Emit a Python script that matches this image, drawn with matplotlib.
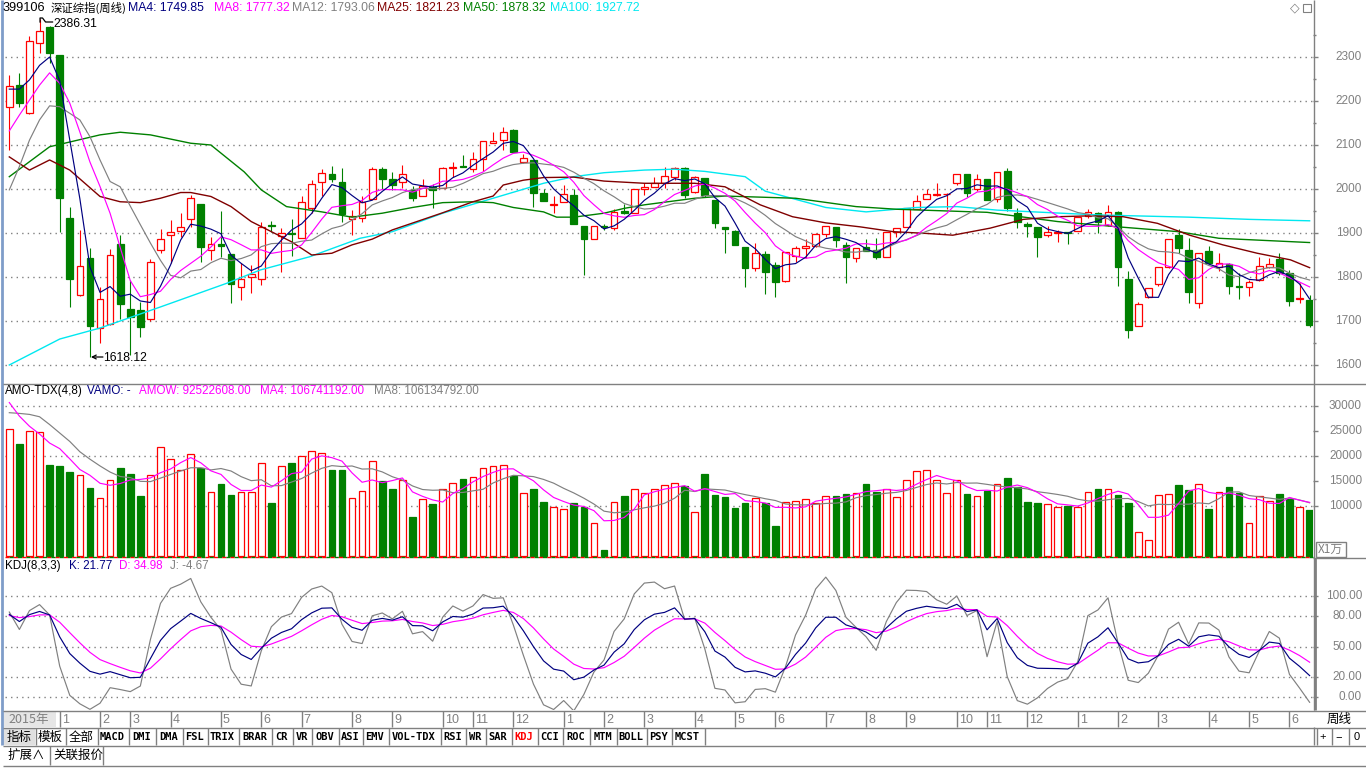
import numpy as np
import matplotlib
matplotlib.use('Agg')
import matplotlib.pyplot as plt
from matplotlib.patches import Rectangle

W, H = 1366, 768

# ---------------- data (weekly, Shenzhen composite) ----------------
opens = [2186, 2236, 2173, 2332, 2368, 2305, 1934, 1758, 1844, 1683,
         1693, 1874, 1727, 1725, 1704, 1861, 1895, 1905, 1931, 1966,
         1861, 1875, 1852, 1778, 1800, 1795, 1919, 1893, 1900, 1888,
         1956, 2015, 2033, 2015, 1932, 1935, 1977, 2045, 2022, 2015,
         1998, 1984, 2004, 2003, 2047, 2052, 2045, 2068, 2104, 2111,
         2134, 2062, 2067, 1992, 1963, 1971, 1986, 1916, 1887, 1915,
         1911, 1949, 1945, 2000, 2004, 2013, 2027, 2047, 1994, 2024,
         1976, 1913, 1905, 1869, 1821, 1852, 1827, 1791, 1848, 1865,
         1871, 1897, 1913, 1873, 1843, 1868, 1861, 1845, 1903, 1913,
         1955, 1977, 1986, 1988, 2013, 2035, 1999, 2022, 1977, 2041,
         1945, 1920, 1913, 1895, 1900, 1903, 1905, 1939, 1945, 1918,
         1948, 1795, 1689, 1754, 1783, 1822, 1895, 1861, 1742, 1859,
         1823, 1830, 1779, 1778, 1793, 1823, 1840, 1808, 1750, 1748]
highs = [2259, 2264, 2348, 2386, 2370, 2305, 1958, 1907, 1865, 1777,
         1864, 1895, 1793, 1744, 1841, 1909, 1930, 1945, 1986, 1966,
         1892, 1951, 1852, 1831, 1827, 1926, 1927, 1911, 1931, 1983,
         2020, 2045, 2052, 2047, 1952, 1984, 2049, 2049, 2038, 2055,
         2007, 2022, 2011, 2051, 2061, 2077, 2083, 2108, 2129, 2142,
         2136, 2079, 2067, 2000, 1984, 2009, 1999, 1916, 1917, 1920,
         1954, 1966, 1999, 2013, 2028, 2051, 2051, 2051, 2030, 2026,
         1976, 1913, 1907, 1869, 1877, 1859, 1835, 1856, 1870, 1886,
         1899, 1917, 1913, 1880, 1867, 1886, 1888, 1903, 1911, 1956,
         1986, 1999, 2013, 1990, 2035, 2035, 2034, 2022, 2038, 2047,
         1956, 1926, 1913, 1917, 1907, 1903, 1937, 1954, 1948, 1964,
         1950, 1814, 1744, 1776, 1822, 1886, 1908, 1889, 1854, 1870,
         1854, 1832, 1810, 1793, 1846, 1844, 1855, 1817, 1786, 1759]
lows = [2089, 2186, 2170, 2308, 2286, 1902, 1731, 1756, 1618, 1649,
        1690, 1704, 1623, 1664, 1699, 1855, 1831, 1892, 1914, 1835,
        1839, 1846, 1740, 1748, 1764, 1782, 1903, 1812, 1848, 1888,
        1945, 1983, 2017, 1926, 1895, 1926, 1977, 1999, 1998, 2003,
        1973, 1984, 1956, 2003, 2027, 2050, 2038, 2042, 2104, 2089,
        2085, 2058, 1958, 1972, 1945, 1971, 1920, 1805, 1887, 1907,
        1907, 1943, 1945, 1986, 2004, 2002, 2020, 1979, 1990, 1982,
        1912, 1855, 1873, 1778, 1814, 1761, 1755, 1789, 1835, 1844,
        1869, 1890, 1869, 1786, 1833, 1858, 1840, 1845, 1890, 1913,
        1955, 1977, 1985, 1954, 2010, 1982, 1995, 1976, 1971, 1950,
        1912, 1892, 1846, 1890, 1879, 1875, 1905, 1935, 1901, 1915,
        1780, 1661, 1689, 1752, 1780, 1820, 1855, 1742, 1729, 1830,
        1814, 1761, 1749, 1757, 1790, 1820, 1805, 1735, 1740, 1687]
closes = [2234, 2195, 2336, 2359, 2310, 1980, 1796, 1826, 1689, 1749,
          1849, 1738, 1708, 1687, 1835, 1886, 1902, 1913, 1979, 1869,
          1874, 1871, 1784, 1795, 1807, 1914, 1916, 1899, 1898, 1970,
          2011, 2037, 2022, 1943, 1939, 1971, 2045, 2023, 2009, 2033,
          1980, 2007, 1998, 2047, 2051, 2050, 2068, 2108, 2110, 2129,
          2085, 2070, 1992, 1972, 1967, 1988, 1920, 1887, 1917, 1913,
          1948, 1946, 1999, 2004, 2013, 2030, 2047, 1986, 2028, 1986,
          1922, 1909, 1873, 1821, 1854, 1812, 1789, 1856, 1865, 1870,
          1897, 1917, 1883, 1846, 1867, 1860, 1845, 1903, 1911, 1956,
          1973, 1989, 1988, 1989, 2035, 1992, 2022, 1976, 2038, 1956,
          1924, 1917, 1892, 1902, 1902, 1900, 1937, 1948, 1924, 1948,
          1823, 1680, 1739, 1774, 1822, 1886, 1865, 1767, 1854, 1832,
          1832, 1780, 1778, 1788, 1825, 1829, 1810, 1746, 1752, 1692]
# weekly turnover, unit: 10,000 (万)
volumes = [25410, 22440, 24940, 24800, 18180, 17980, 16760, 16290, 13520, 11620,
           15140, 17700, 16350, 12100, 16290, 21900, 19330, 17170, 20340, 17700,
           12900, 14330, 12300, 12900, 12900, 18650, 10680, 17980, 18590, 19940,
           21020, 20550, 17170, 17170, 11620, 13040, 18990, 15000, 13310, 15140,
           7840, 11420, 10470, 13450, 14660, 15400, 15810, 17700, 17980, 18110,
           15950, 12640, 13450, 10880, 9860, 9390, 10610, 9730, 6550, 1280,
           10880, 12100, 13310, 12640, 13310, 14260, 14660, 14060, 8850, 16350,
           12300, 11760, 9530, 10680, 11620, 10540, 6010, 10810, 11080, 11420,
           10540, 12100, 12100, 12500, 12640, 14330, 12770, 13450, 11890, 15140,
           16960, 17170, 15140, 12700, 15140, 12430, 12100, 12970, 14460, 15540,
           13790, 10880, 10680, 10410, 9730, 10070, 9730, 12900, 13310, 13310,
           12300, 10680, 4790, 3170, 12300, 12430, 14120, 13110, 14330, 9320,
           12900, 13790, 12570, 6620, 12100, 10950, 12370, 11420, 9860, 9252]

ma4_head = [2227, 2227, 2248]
ma8_head = [2132, 2168, 2202, 2236, 2264, 2240, 2195]
ma12_head = [1998, 2051, 2111, 2157, 2189, 2187, 2172, 2157, 2119, 2066, 2017]
ma25_idx = [0, 2, 4, 6, 9, 11, 13, 15, 17, 18, 20, 22, 24, 26, 28, 30, 32, 34, 36,
            38, 43, 46, 48, 49, 51, 53, 56, 59, 63, 68, 71, 74.5, 77.7, 81, 84.4,
            87.7, 91, 93.6, 97.3, 100.6, 104, 107.2, 110.5, 113.9, 117.1, 120.4,
            123.8, 127.1, 129]
ma25_val = [2073, 2043, 2066, 2043, 1983, 1971, 1969, 1979, 1992, 1992, 1983, 1960,
            1926, 1903, 1880, 1850, 1854, 1873, 1886, 1907, 1946, 1971, 1984, 2009,
            2020, 2026, 2027, 2018, 2013, 2013, 2005, 1964, 1937, 1923, 1914, 1903,
            1899, 1895, 1911, 1931, 1937, 1939, 1937, 1922, 1895, 1873, 1854, 1839,
            1821.23]
ma50_idx = [0, 4, 9, 11, 14, 18, 20, 23.3, 25, 27.5, 31, 34, 37, 40, 43, 46, 48, 50,
            53, 54.3, 56, 59, 61, 63, 66, 68, 71, 78, 84, 88, 97, 104, 110, 116, 120, 129]
ma50_val = [2028, 2096, 2123, 2129, 2123, 2104, 2100, 2039, 1998, 1960, 1948, 1936,
            1945, 1958, 1969, 1971, 1969, 1958, 1948, 1936, 1936, 1945, 1956, 1964,
            1973, 1979, 1984, 1979, 1960, 1954, 1947, 1926, 1914, 1903, 1888, 1878.32]
ma100_idx = [0, 5, 9, 15, 21.6, 24.9, 29.8, 34.8, 38, 43, 48, 53, 56, 59, 63, 66,
             69, 73, 75, 81, 85, 90, 94, 98, 108, 117, 123, 129]
ma100_val = [1600, 1659, 1684, 1732, 1786, 1816, 1846, 1888, 1903, 1945, 1979, 2013,
             2028, 2037, 2043, 2045, 2040, 2028, 1995, 1958, 1948, 1958, 1960, 1952,
             1941, 1936, 1931, 1927.72]
vma4_head = [30690, 27980, 25950]
vma8_head = [28660, 28520, 28320, 27850, 26290, 24600, 22910]
kd_start = [80.0, 80.0]   # K, D before the first visible week

month_labels = ['1', '2', '3', '4', '5', '6', '7', '8', '9', '10', '11', '12',
                '1', '2', '3', '4', '5', '6', '7', '8', '9', '10', '11', '12',
                '1', '2', '3', '4', '5', '6']
month_index = [5, 9, 12, 16, 21, 25, 29, 34, 38, 43, 46, 50,
               55, 59, 63, 68, 72, 76, 81, 85, 89, 94, 97, 101,
               106, 110, 114, 119, 123, 127]
tab_names = ['指标', '模板', '全部', 'MACD', 'DMI', 'DMA', 'FSL', 'TRIX', 'BRAR', 'CR',
             'VR', 'OBV', 'ASI', 'EMV', 'VOL-TDX', 'RSI', 'WR', 'SAR', 'KDJ', 'CCI',
             'ROC', 'MTM', 'BOLL', 'PSY', 'MCST']
tab_edges = [3, 35, 65, 97, 128, 155, 182, 207, 238, 271, 292, 311, 338, 362, 388,
             440, 465, 485, 511, 537, 562, 589, 616, 646, 671, 704]

# ---------------- derived ----------------
n = len(closes)
idx = np.arange(n)
O = np.array(opens, float); Hh = np.array(highs, float)
L = np.array(lows, float); C = np.array(closes, float)
V = np.array(volumes, float)


def ma_with_head(vals, period, head):
    out = []
    for i in range(len(vals)):
        if i < len(head):
            out.append(head[i])
        else:
            out.append(np.mean(vals[i - period + 1:i + 1]))
    return np.array(out)


ma4 = ma_with_head(C, 4, ma4_head)
ma8 = ma_with_head(C, 8, ma8_head)
ma12 = ma_with_head(C, 12, ma12_head)
vma4 = ma_with_head(V, 4, vma4_head)
vma8 = ma_with_head(V, 8, vma8_head)

K = []; D = []
k, d = kd_start
for i in range(n):
    lo = L[max(0, i - 7):i + 1].min()
    hi = Hh[max(0, i - 7):i + 1].max()
    rsv = (C[i] - lo) / (hi - lo) * 100 if hi > lo else 50
    k = 2 / 3 * k + rsv / 3
    d = 2 / 3 * d + k / 3
    K.append(k); D.append(d)
K = np.array(K); D = np.array(D); J = 3 * K - 2 * D

# ---------------- figure ----------------
RED = '#FF0000'; GRN = '#008000'; NAVY = '#000080'; MAG = '#FF00FF'
GRY = '#808080'; DRED = '#800000'; CYAN = '#00E8F0'
FONT = ['Liberation Sans', 'Noto Sans CJK SC', 'DejaVu Sans']
CJK = ['Noto Sans CJK SC', 'DejaVu Sans']
LW = 0.85

fig = plt.figure(figsize=(W / 100, H / 100), dpi=100)
fig.patch.set_facecolor('white')

XPX0, XSTEP = 9.3, 10.08


def px_axes(x0, y0, x1, y1, z=1):
    ax = fig.add_axes([x0 / W, 1 - y1 / H, (x1 - x0) / W, (y1 - y0) / H], zorder=z)
    ax.set_axis_off()
    ax.set_xlim((x0 - XPX0) / XSTEP, (x1 - XPX0) / XSTEP)
    return ax


def price_to_y(p):
    return 189 - (p - 2000) * 0.44


# main price panel
axp = px_axes(5, 0, 1313, 383)
axp.set_ylim(2000 - (383 - 189) / 0.44, 2000 + 189 / 0.44)
for g in range(1600, 2400, 100):
    axp.axhline(g, color=GRY, lw=1, ls=(0, (1, 3)), zorder=0)
up = C >= O
bw = 0.66
axp.vlines(idx[up], Hh[up], L[up], color=RED, lw=0.8, zorder=2)
axp.vlines(idx[~up], Hh[~up], L[~up], color=GRN, lw=0.8, zorder=2)
bot = np.minimum(O, C); ht = np.maximum(np.abs(C - O), 0.6)
axp.bar(idx[up], ht[up], bottom=bot[up], width=bw, facecolor='white',
        edgecolor=RED, linewidth=0.9, zorder=3)
axp.bar(idx[~up], ht[~up], bottom=bot[~up], width=bw, facecolor=GRN,
        edgecolor=GRN, linewidth=0.9, zorder=3)
axp.plot(ma100_idx, ma100_val, color=CYAN, lw=1.0, zorder=4)
axp.plot(ma50_idx, ma50_val, color=GRN, lw=1.0, zorder=4)
axp.plot(ma25_idx, ma25_val, color=DRED, lw=1.0, zorder=4)
axp.plot(idx, ma12, color=GRY, lw=LW, zorder=4)
axp.plot(idx, ma8, color=MAG, lw=LW, zorder=4)
axp.plot(idx, ma4, color=NAVY, lw=LW, zorder=4)

# volume panel
axv = px_axes(5, 384, 1313, 557)
axv.set_ylim((556 - 557) * 200, (556 - 384) * 200)
for g in (10000, 20000, 30000):
    axv.axhline(g, color=GRY, lw=1, ls=(0, (1, 3)), zorder=0)
vu = up
axv.bar(idx[vu], V[vu], width=bw, facecolor='white', edgecolor=RED, linewidth=0.9, zorder=2)
axv.bar(idx[~vu], V[~vu], width=bw, facecolor=GRN, edgecolor=GRN, linewidth=0.9, zorder=2)
axv.plot(idx, vma8, color=GRY, lw=LW, zorder=3)
axv.plot(idx, vma4, color=MAG, lw=LW, zorder=3)

# KDJ panel
axk = px_axes(5, 558, 1313, 710)
axk.set_ylim((697 - 710) / 1.01, (697 - 558) / 1.01)
for g in (0, 20, 50, 80, 100):
    axk.axhline(g, color=GRY, lw=1, ls=(0, (1, 3)), zorder=0)
axk.plot(idx, J, color=GRY, lw=LW, zorder=2)
axk.plot(idx, D, color=MAG, lw=LW, zorder=3)
axk.plot(idx, K, color=NAVY, lw=LW, zorder=4)

# overlay in pixel coordinates
ov = fig.add_axes([0, 0, 1, 1], zorder=10)
ov.set_xlim(0, W); ov.set_ylim(H, 0); ov.set_axis_off()
ov.patch.set_alpha(0)


def hline(y, x0, x1, c=GRY, lw=1, **kw):
    ov.plot([x0, x1], [y, y], color=c, lw=lw, solid_capstyle='butt', **kw)


def vline(x, y0, y1, c=GRY, lw=1, **kw):
    ov.plot([x, x], [y0, y1], color=c, lw=lw, solid_capstyle='butt', **kw)


def txt(x, y, s, c='black', size=8.8, ha='left', fam=None, **kw):
    ov.text(x, y, s, color=c, fontsize=size, ha=ha, va='center',
            family=fam or FONT, **kw)


# frame
vline(1.5, 0, 745, c='#7f9dc9', lw=2)
vline(1313.5, 0, 710)
hline(383.5, 3, 1366)
hline(556.5, 5, 1313, c=RED, lw=1, ls=(0, (3, 3)))
hline(556.5, 5, 1313, c=GRN, lw=1, ls=(3, (3, 3)))
hline(557.5, 1313, 1366)
hline(710.5, 3, 1366)
hline(727.5, 3, 1366)
hline(745.5, 3, 1366)
hline(765.5, 3, 1366)

# titles
txt(3, 8, '399106', size=9.2)
txt(51, 8, '深证综指(周线)', size=8.2, fam=CJK)
txt(128, 8, 'MA4: 1749.85', NAVY)
txt(214, 8, 'MA8: 1777.32', MAG)
txt(292, 8, 'MA12: 1793.06', GRY)
txt(377, 8, 'MA25: 1821.23', DRED)
txt(463, 8, 'MA50: 1878.32', GRN)
txt(550, 8, 'MA100: 1927.72', CYAN)
txt(1290, 8, '◇', GRY, size=9, fam=['DejaVu Sans'])
ov.add_patch(Rectangle((1303, 4), 8, 8, fill=False, ec=GRY, lw=0.8))

txt(5, 391, 'AMO-TDX(4,8)', 'black', size=8.4)
txt(87, 391, 'VAMO: -', NAVY, size=8.4)
txt(139, 391, 'AMOW: 92522608.00', MAG, size=8.4)
txt(260, 391, 'MA4: 106741192.00', MAG, size=8.4)
txt(374, 391, 'MA8: 106134792.00', GRY, size=8.4)

txt(5, 566, 'KDJ(8,3,3)', 'black', size=8.4)
txt(69, 566, 'K: 21.77', NAVY, size=8.4)
txt(119, 566, 'D: 34.98', MAG, size=8.4)
txt(170, 566, 'J: -4.67', GRY, size=8.4)

# price extremes
x3 = XPX0 + XSTEP * 3
ov.plot([x3 + 0.5, x3 + 0.5, x3 + 3, x3 + 6, x3 + 13], [22, 18, 18, 22, 22],
        color='black', lw=0.9)
txt(x3 + 14, 24, '2386.31', size=8.8)
x8 = XPX0 + XSTEP * 8
ov.annotate('', xy=(x8 + 1, 357), xytext=(x8 + 13, 357),
            arrowprops=dict(arrowstyle='->', color='black', lw=0.9,
                            shrinkA=0, shrinkB=0, mutation_scale=7))
txt(x8 + 13, 358, '1618.12', size=8.8)

# right axes
for p in range(1600, 2400, 100):
    y = price_to_y(p)
    hline(y, 1313, 1318)
    txt(1362, y, str(p), GRY, size=8.5, ha='right')
for p in range(1650, 2400, 100):
    hline(price_to_y(p), 1313, 1316)
for v in (10000, 15000, 20000, 25000, 30000):
    y = 556 - v / 200
    hline(y, 1313, 1318)
    txt(1362, y, str(v), GRY, size=8.5, ha='right')
ov.add_patch(Rectangle((1315.5, 541.5), 30, 15, fill=False, ec=GRY, lw=1))
txt(1318, 549, 'X1万', GRY, size=8.5, fam=CJK)
for v, s in ((100, '100.00'), (80, '80.00'), (50, '50.00'), (20, '20.00'), (0, '0.00')):
    y = 697 - v * 1.01
    hline(y, 1313, 1318)
    txt(1362, y, s, GRY, size=8.5, ha='right')
vline(1314.5, 558, 710, lw=2)

# time axis
ov.add_patch(Rectangle((4, 711), 52, 16, fc='#e6e6e6', ec='none'))
txt(8, 719, '2015年', GRY, size=9, fam=CJK)
for lab, i in zip(month_labels, month_index):
    x = XPX0 + XSTEP * i
    vline(x, 711, 727)
    txt(x + 2, 720, lab, GRY, size=9)
txt(1327, 719, '周线', 'black', size=9, fam=CJK)

# toolbar
ov.add_patch(Rectangle((3, 728), 32, 17, fc='#e0e0e0', ec='none'))
for k_, name in enumerate(tab_names):
    x0, x1 = tab_edges[k_], tab_edges[k_ + 1]
    vline(x1 + 0.5, 728, 745)
    col = RED if name == 'KDJ' else 'black'
    fam = CJK if k_ < 3 else ['DejaVu Sans Mono']
    sz = 9 if k_ < 3 else 7.5
    txt((x0 + x1) / 2, 737, name, col, size=sz, ha='center', fam=fam,
        fontweight='bold' if k_ >= 3 else 'normal')
for x0, x1, s in ((1316, 1330, '+'), (1331, 1347, '−'), (1348, 1366, '0')):
    vline(x0 + 0.5, 728, 745)
    txt((x0 + x1) / 2, 737, s, 'black', size=8, ha='center')
vline(1313.5, 727, 745)
# bottom row
txt(7, 755, '扩展∧', 'black', size=9, fam=CJK)
vline(49.5, 746, 765)
txt(53, 755, '关联报价', 'black', size=9, fam=CJK)
vline(102.5, 746, 765)

fig.savefig('out.png', dpi=100, facecolor='white')
